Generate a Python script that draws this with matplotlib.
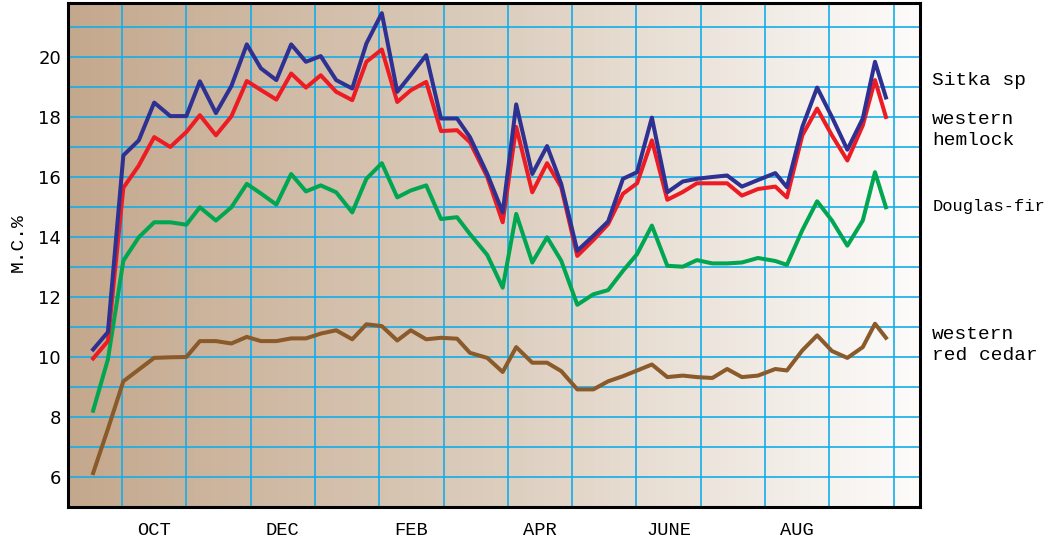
import numpy as np
import matplotlib
matplotlib.use("Agg")
import matplotlib.pyplot as plt
from matplotlib.colors import LinearSegmentedColormap

# sample dates, in months after 1 October
sample_months = np.array([
    -0.45, -0.22, 0.02, 0.26, 0.50, 0.75, 1.00, 1.21, 1.46, 1.70,
    1.94, 2.16, 2.40, 2.63, 2.86, 3.09, 3.33, 3.58, 3.80, 4.04,
    4.28, 4.49, 4.73, 4.96, 5.21, 5.41, 5.68, 5.92, 6.13, 6.38,
    6.61, 6.83, 7.08, 7.33, 7.56, 7.79, 8.01, 8.24, 8.48, 8.72,
    8.94, 9.18, 9.41, 9.64, 9.89, 10.16, 10.34, 10.58, 10.81, 11.04,
    11.28, 11.52, 11.71, 11.88])

sitka_spruce = [
    10.25, 10.83, 16.72, 17.22, 18.48, 18.03, 18.03, 19.19, 18.13, 19.03,
    20.42, 19.62, 19.23, 20.42, 19.84, 20.03, 19.23, 18.95, 20.45, 21.46,
    18.84, 19.40, 20.06, 17.95, 17.95, 17.33, 16.10, 14.82, 18.42, 16.10,
    17.03, 15.77, 13.54, 14.04, 14.52, 15.94, 16.16, 17.98, 15.49, 15.85,
    15.94, 16.00, 16.05, 15.68, 15.90, 16.13, 15.66, 17.67, 18.98, 18.00,
    16.91, 17.95, 19.84, 18.65]

western_hemlock = [
    9.95, 10.53, 15.64, 16.38, 17.33, 17.00, 17.50, 18.06, 17.39, 18.02,
    19.20, 18.90, 18.58, 19.45, 18.98, 19.39, 18.84, 18.56, 19.84, 20.25,
    18.50, 18.89, 19.17, 17.53, 17.56, 17.16, 16.00, 14.49, 17.67, 15.49,
    16.46, 15.66, 13.37, 13.90, 14.43, 15.44, 15.79, 17.22, 15.24, 15.50,
    15.79, 15.79, 15.79, 15.38, 15.60, 15.68, 15.32, 17.39, 18.28, 17.39,
    16.55, 17.72, 19.23, 18.00]

douglas_fir = [
    8.21, 9.92, 13.21, 13.99, 14.49, 14.49, 14.41, 14.99, 14.55, 14.99,
    15.77, 15.45, 15.08, 16.10, 15.52, 15.72, 15.49, 14.82, 15.94, 16.46,
    15.32, 15.55, 15.72, 14.60, 14.66, 14.10, 13.40, 12.31, 14.77, 13.15,
    13.99, 13.21, 11.74, 12.09, 12.23, 12.87, 13.43, 14.38, 13.04, 13.01,
    13.23, 13.12, 13.12, 13.15, 13.30, 13.20, 13.07, 14.23, 15.19, 14.55,
    13.71, 14.55, 16.16, 14.99]

western_red_cedar = [
    6.13, 7.60, 9.19, 9.58, 9.97, 9.99, 10.00, 10.53, 10.53, 10.45,
    10.67, 10.53, 10.53, 10.62, 10.62, 10.78, 10.89, 10.59, 11.09, 11.03,
    10.55, 10.89, 10.59, 10.64, 10.61, 10.14, 9.97, 9.50, 10.33, 9.81,
    9.81, 9.53, 8.92, 8.92, 9.19, 9.36, 9.55, 9.75, 9.33, 9.38,
    9.33, 9.30, 9.60, 9.33, 9.38, 9.60, 9.55, 10.22, 10.72, 10.20,
    9.97, 10.33, 11.11, 10.64]

month_labels = ["OCT", "DEC", "FEB", "APR", "JUNE", "AUG"]
y_ticks = [6, 8, 10, 12, 14, 16, 18, 20]

mono = ["Liberation Mono", "DejaVu Sans Mono"]
grid_color = "#12aeea"

fig = plt.figure(figsize=(10.5, 5.43), dpi=100)
ax = fig.add_axes([0.0648, 0.0663, 0.8114, 0.9282])

x_min, x_max = -0.84, 12.41
y_min, y_max = 5.0, 21.8

# tan to white background
bg = LinearSegmentedColormap.from_list("bg", ["#c4a88d", "#dccdbd", "#fdfcfb"])
ax.imshow(np.linspace(0, 1, 256).reshape(1, -1), cmap=bg, aspect="auto",
          extent=(0, 1, 0, 1), transform=ax.transAxes, zorder=0)

for m in range(0, 13):
    ax.axvline(m, color=grid_color, lw=1.2, zorder=1)
for v in range(6, 22):
    ax.axhline(v, color=grid_color, lw=1.2, zorder=1)

ax.plot(sample_months, western_red_cedar, color="#8b5a2b", lw=2.9, zorder=3)
ax.plot(sample_months, douglas_fir, color="#00a651", lw=2.9, zorder=3)
ax.plot(sample_months, western_hemlock, color="#ed1c24", lw=2.9, zorder=4)
ax.plot(sample_months, sitka_spruce, color="#2e3192", lw=2.9, zorder=5)

ax.set_xlim(x_min, x_max)
ax.set_ylim(y_min, y_max)

ax.set_yticks(y_ticks)
ax.set_yticklabels([str(t) for t in y_ticks], fontsize=13)
ax.set_xticks([0.5, 2.5, 4.5, 6.5, 8.5, 10.5])
ax.set_xticklabels(month_labels, family=mono, fontsize=13.5)
ax.tick_params(axis="x", length=0, pad=11)
ax.tick_params(axis="y", length=0, pad=5)
fig.text(18 / 1050, 1 - 243 / 543, "M.C.%", family=mono, fontsize=14,
         rotation=90, ha="center", va="center")

for s in ax.spines.values():
    s.set_linewidth(2.2)
    s.set_color("black")
    s.set_zorder(6)

labels = [("Sitka sp", 19.2, 14), ("western\nhemlock", 17.56, 14),
          ("Douglas-fir", 15.0, 12.3), ("western\nred cedar", 10.41, 14)]
for text, yv, fs in labels:
    ax.text(12.6, yv, text, family=mono, fontsize=fs, va="center", ha="left",
            linespacing=1.3, clip_on=False)

fig.savefig("out.png", dpi=100)
